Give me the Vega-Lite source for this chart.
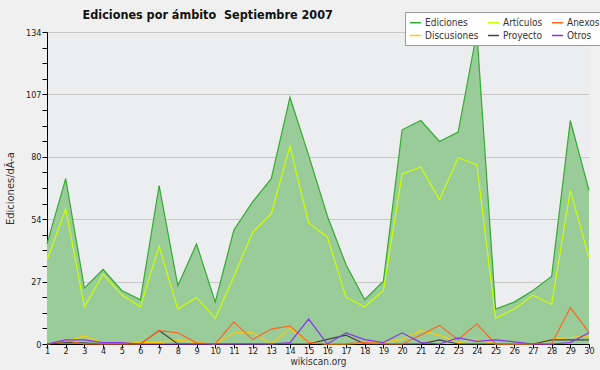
{
  "$schema": "https://vega.github.io/schema/vega-lite/v6.json",
  "width": 542,
  "height": 312,
  "autosize": {"type": "none"},
  "padding": {"left": 47, "top": 32, "right": 11, "bottom": 26},
  "background": "#f0f0f0",
  "title": {"text": "Ediciones por ámbito\u00a0 Septiembre 2007", "anchor": "start", "dx": 78, "offset": -10, "font": "DejaVu Sans Condensed", "fontSize": 12.5, "fontWeight": "bold", "color": "#111111"},
  "config": {"view": {"fill": "#ecedef", "stroke": null}, "font": "DejaVu Sans Condensed"},
  "data": {"values": [
    {"dia": 1, "Ediciones": 43, "Artículos": 36, "Discusiones": 0, "Proyecto": 0, "Anexos": 0, "Otros": 0},
    {"dia": 2, "Ediciones": 71, "Artículos": 58, "Discusiones": 1, "Proyecto": 0.6, "Anexos": 1.4, "Otros": 1.8},
    {"dia": 3, "Ediciones": 24, "Artículos": 16, "Discusiones": 3.5, "Proyecto": 0.5, "Anexos": 0, "Otros": 1.8},
    {"dia": 4, "Ediciones": 32, "Artículos": 30, "Discusiones": 0.4, "Proyecto": 0, "Anexos": 0, "Otros": 0.6},
    {"dia": 5, "Ediciones": 23, "Artículos": 21, "Discusiones": 0.4, "Proyecto": 0, "Anexos": 0, "Otros": 0.6},
    {"dia": 6, "Ediciones": 19, "Artículos": 16, "Discusiones": 0.6, "Proyecto": 0, "Anexos": 0, "Otros": 0},
    {"dia": 7, "Ediciones": 68, "Artículos": 42, "Discusiones": 0.6, "Proyecto": 5.8, "Anexos": 5.7, "Otros": 0},
    {"dia": 8, "Ediciones": 25, "Artículos": 15, "Discusiones": 1.8, "Proyecto": 0, "Anexos": 4.8, "Otros": 0},
    {"dia": 9, "Ediciones": 43, "Artículos": 20, "Discusiones": 0.6, "Proyecto": 0, "Anexos": 0.5, "Otros": 0},
    {"dia": 10, "Ediciones": 18, "Artículos": 11, "Discusiones": 0, "Proyecto": 0, "Anexos": 0, "Otros": 0},
    {"dia": 11, "Ediciones": 49, "Artículos": 29, "Discusiones": 4.8, "Proyecto": 0, "Anexos": 9.5, "Otros": 0},
    {"dia": 12, "Ediciones": 61, "Artículos": 48, "Discusiones": 4.8, "Proyecto": 0, "Anexos": 1.9, "Otros": 0},
    {"dia": 13, "Ediciones": 71, "Artículos": 56, "Discusiones": 0, "Proyecto": 0, "Anexos": 6.4, "Otros": 0},
    {"dia": 14, "Ediciones": 106, "Artículos": 85, "Discusiones": 6.7, "Proyecto": 0, "Anexos": 7.8, "Otros": 0.6},
    {"dia": 15, "Ediciones": 81, "Artículos": 52, "Discusiones": 0.6, "Proyecto": 0, "Anexos": 0.6, "Otros": 10.7},
    {"dia": 16, "Ediciones": 55, "Artículos": 46, "Discusiones": 0, "Proyecto": 2, "Anexos": 0, "Otros": 0},
    {"dia": 17, "Ediciones": 34, "Artículos": 20, "Discusiones": 0, "Proyecto": 3.8, "Anexos": 0.2, "Otros": 4.8},
    {"dia": 18, "Ediciones": 19, "Artículos": 16, "Discusiones": 0.4, "Proyecto": 0, "Anexos": 0.6, "Otros": 1.9},
    {"dia": 19, "Ediciones": 27, "Artículos": 23, "Discusiones": 0.6, "Proyecto": 0, "Anexos": 0.2, "Otros": 0.6},
    {"dia": 20, "Ediciones": 92, "Artículos": 73, "Discusiones": 2, "Proyecto": 0, "Anexos": 0, "Otros": 4.8},
    {"dia": 21, "Ediciones": 96, "Artículos": 76, "Discusiones": 5.7, "Proyecto": 0, "Anexos": 3.8, "Otros": 0.6},
    {"dia": 22, "Ediciones": 87, "Artículos": 62, "Discusiones": 3.8, "Proyecto": 1.8, "Anexos": 8, "Otros": 0},
    {"dia": 23, "Ediciones": 91, "Artículos": 80, "Discusiones": 0.6, "Proyecto": 0, "Anexos": 1.8, "Otros": 2.6},
    {"dia": 24, "Ediciones": 134, "Artículos": 77, "Discusiones": 1.8, "Proyecto": 0, "Anexos": 8.7, "Otros": 1.1},
    {"dia": 25, "Ediciones": 15, "Artículos": 11, "Discusiones": 0, "Proyecto": 0, "Anexos": 0, "Otros": 1.8},
    {"dia": 26, "Ediciones": 18, "Artículos": 15, "Discusiones": 0, "Proyecto": 0, "Anexos": 0, "Otros": 0.9},
    {"dia": 27, "Ediciones": 23, "Artículos": 21, "Discusiones": 0, "Proyecto": 0, "Anexos": 0, "Otros": 0},
    {"dia": 28, "Ediciones": 29, "Artículos": 17, "Discusiones": 2, "Proyecto": 1.8, "Anexos": 0, "Otros": 0},
    {"dia": 29, "Ediciones": 96, "Artículos": 66, "Discusiones": 2.8, "Proyecto": 1.8, "Anexos": 15.6, "Otros": 0.6},
    {"dia": 30, "Ediciones": 66, "Artículos": 37, "Discusiones": 3.5, "Proyecto": 1.8, "Anexos": 5, "Otros": 4.8}
  ]},
  "transform": [{"fold": ["Ediciones", "Artículos", "Discusiones", "Proyecto", "Anexos", "Otros"], "as": ["serie", "valor"]}],
  "encoding": {
    "x": {"field": "dia", "type": "quantitative", "scale": {"domain": [1, 30], "nice": false, "zero": false},
      "axis": {"values": [1,2,3,4,5,6,7,8,9,10,11,12,13,14,15,16,17,18,19,20,21,22,23,24,25,26,27,28,29,30],
        "title": "wikiscan.org", "titleFontSize": 10, "titleFontWeight": "normal", "titleColor": "#333333", "titlePadding": 1,
        "labelFontSize": 9, "labelColor": "#222222", "labelPadding": -2, "labelFlush": false, "labelOverlap": false, "labelSeparation": 0,
        "domainColor": "#000000", "tickColor": "#000000", "tickSize": 4, "grid": false}},
    "y": {"field": "valor", "type": "quantitative", "scale": {"domain": [0, 134], "nice": false},
      "axis": {"values": [0, 6.7, 13.4, 20.1, 26.8, 33.5, 40.2, 46.9, 53.6, 60.3, 67, 73.7, 80.4, 87.1, 93.8, 100.5, 107.2, 113.9, 120.6, 127.3, 134],
        "labelExpr": "indexof([0, 26.8, 53.6, 80.4, 107.2, 134], datum.value) >= 0 ? format(datum.value, '.0f') : ''",
        "labelOverlap": false,
        "grid": true, "gridColor": "#c8c8c8",
        "gridOpacity": {"condition": {"test": "indexof([26.8, 53.6, 80.4, 107.2, 134], datum.value) >= 0", "value": 1}, "value": 0},
        "title": "Ediciones/dÃ-a", "titleFontSize": 11, "titleFontWeight": "normal", "titleColor": "#333333", "titlePadding": 10,
        "labelFontSize": 9, "labelColor": "#222222", "labelPadding": 1,
        "domainColor": "#000000", "tickColor": "#000000", "tickSize": 5}}
  },
  "layer": [
    {
      "transform": [{"filter": "datum.serie === 'Ediciones'"}],
      "mark": {"type": "area", "color": "#99cc99", "opacity": 1}
    },
    {
      "mark": {"type": "line", "strokeWidth": 1.2},
      "encoding": {
        "color": {"field": "serie", "type": "nominal",
          "scale": {"domain": ["Ediciones", "Artículos", "Anexos", "Discusiones", "Proyecto", "Otros"],
                    "range": ["#33aa33", "#ccff00", "#ff6622", "#ffcc00", "#444444", "#8833ee"]},
          "legend": {"orient": "none", "legendX": 358, "legendY": -20, "direction": "horizontal", "columns": 3, "title": null,
            "symbolType": "stroke", "symbolSize": 120, "symbolStrokeWidth": 1.5,
            "labelFontSize": 10, "labelFont": "DejaVu Sans Condensed", "labelColor": "#333333",
            "fillColor": "#ffffff", "strokeColor": "#999999", "padding": 4, "rowPadding": 1, "columnPadding": 6, "labelOffset": 3}}
      }
    },
    {
      "data": {"values": [{"t": "CC BY-SA 3.0"}]},
      "mark": {"type": "text", "align": "right", "baseline": "middle", "dy": 19, "dx": 4, "fontSize": 7, "color": "#444444"},
      "encoding": {"x": {"datum": 30}, "y": {"datum": 0}, "text": {"field": "t"}}
    }
  ]
}
